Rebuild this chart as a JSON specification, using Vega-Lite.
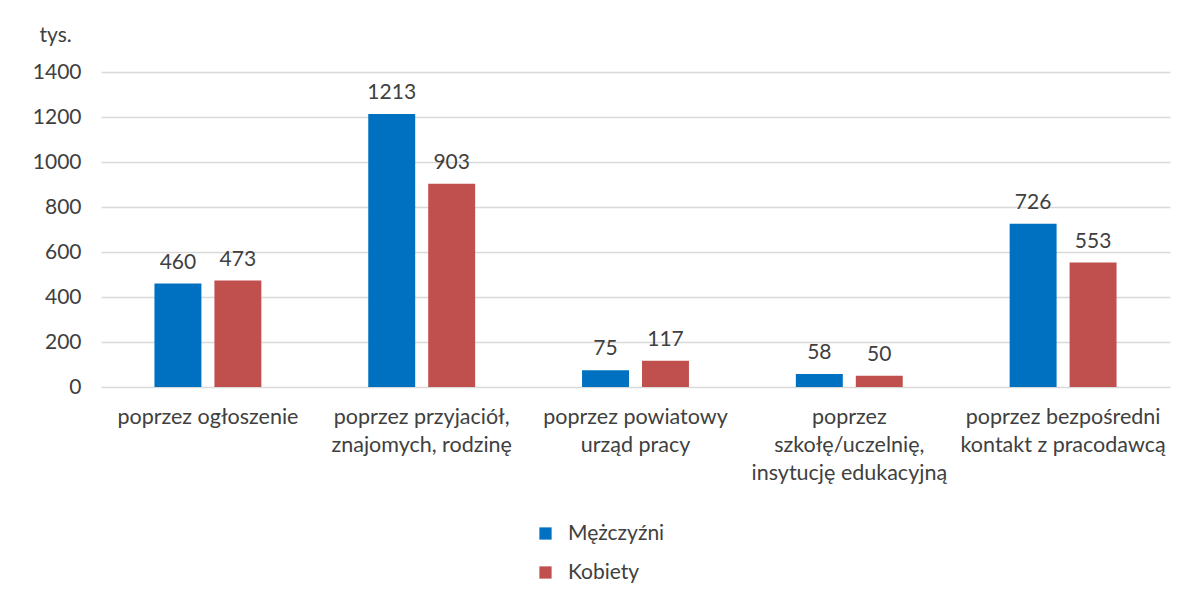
{
  "$schema": "https://vega.github.io/schema/vega-lite/v6.json",
  "width": 1069,
  "height": 315,
  "autosize": {"type": "none"},
  "padding": {"left": 101, "top": 72, "right": 28, "bottom": 220},
  "background": "white",
  "config": {
    "view": {"stroke": null},
    "font": "Lato",
    "text": {"font": "Lato"}
  },
  "data": {
    "values": [
      {"cat": "poprzez ogłoszenie", "sex": "Mężczyźni", "value": 460},
      {"cat": "poprzez ogłoszenie", "sex": "Kobiety", "value": 473},
      {"cat": "poprzez przyjaciół,|znajomych, rodzinę", "sex": "Mężczyźni", "value": 1213},
      {"cat": "poprzez przyjaciół,|znajomych, rodzinę", "sex": "Kobiety", "value": 903},
      {"cat": "poprzez powiatowy|urząd pracy", "sex": "Mężczyźni", "value": 75},
      {"cat": "poprzez powiatowy|urząd pracy", "sex": "Kobiety", "value": 117},
      {"cat": "poprzez|szkołę/uczelnię,|insytucję edukacyjną", "sex": "Mężczyźni", "value": 58},
      {"cat": "poprzez|szkołę/uczelnię,|insytucję edukacyjną", "sex": "Kobiety", "value": 50},
      {"cat": "poprzez bezpośredni|kontakt z pracodawcą", "sex": "Mężczyźni", "value": 726},
      {"cat": "poprzez bezpośredni|kontakt z pracodawcą", "sex": "Kobiety", "value": 553}
    ]
  },
  "encoding": {
    "x": {
      "field": "cat",
      "type": "nominal",
      "sort": null,
      "scale": {"paddingInner": 0.5, "paddingOuter": 0.25},
      "axis": {
        "title": null,
        "labelAngle": 0,
        "labelExpr": "split(datum.label, '|')",
        "labelFont": "Lato",
        "labelFontSize": 21.5,
        "labelColor": "#404040",
        "labelLineHeight": 28,
        "labelPadding": 19,
        "labelLimit": 0,
        "ticks": false,
        "tickSize": 0,
        "domain": false,
        "labelBaseline": "top"
      }
    },
    "xOffset": {
      "field": "sex",
      "type": "nominal",
      "sort": ["Mężczyźni", "Kobiety"],
      "scale": {"paddingInner": 0.217, "paddingOuter": 0}
    },
    "y": {
      "field": "value",
      "type": "quantitative",
      "scale": {"domain": [0, 1400]},
      "axis": {
        "values": [0, 200, 400, 600, 800, 1000, 1200, 1400],
        "format": "d",
        "title": "tys.",
        "titleAngle": 0,
        "titleAlign": "left",
        "titleBaseline": "middle",
        "titleX": -62,
        "titleY": -37,
        "titleFont": "Lato",
        "titleFontSize": 21,
        "titleFontWeight": "normal",
        "titleColor": "#404040",
        "labelFont": "Lato",
        "labelFontSize": 21,
        "labelColor": "#404040",
        "labelPadding": 20,
        "ticks": false,
        "tickSize": 0,
        "domain": false,
        "grid": true,
        "gridColor": "#d9d9d9",
        "gridWidth": 1.5
      }
    }
  },
  "layer": [
    {
      "mark": {"type": "bar"},
      "encoding": {
        "color": {
          "field": "sex",
          "type": "nominal",
          "sort": ["Mężczyźni", "Kobiety"],
          "scale": {"domain": ["Mężczyźni", "Kobiety"], "range": ["#0070C0", "#C0504D"]},
          "legend": {
            "title": null,
            "orient": "none",
            "direction": "vertical",
            "legendX": 434,
            "legendY": 451,
            "symbolType": "square",
            "symbolSize": 150,
            "symbolStrokeWidth": 0,
            "labelFont": "Lato",
            "labelFontSize": 21,
            "labelColor": "#404040",
            "labelOffset": 12,
            "rowPadding": 17
          }
        }
      }
    },
    {
      "mark": {"type": "text", "baseline": "bottom", "dy": -11, "fontSize": 21, "color": "#404040", "font": "Lato"},
      "encoding": {
        "text": {"field": "value", "type": "quantitative"}
      }
    }
  ]
}
